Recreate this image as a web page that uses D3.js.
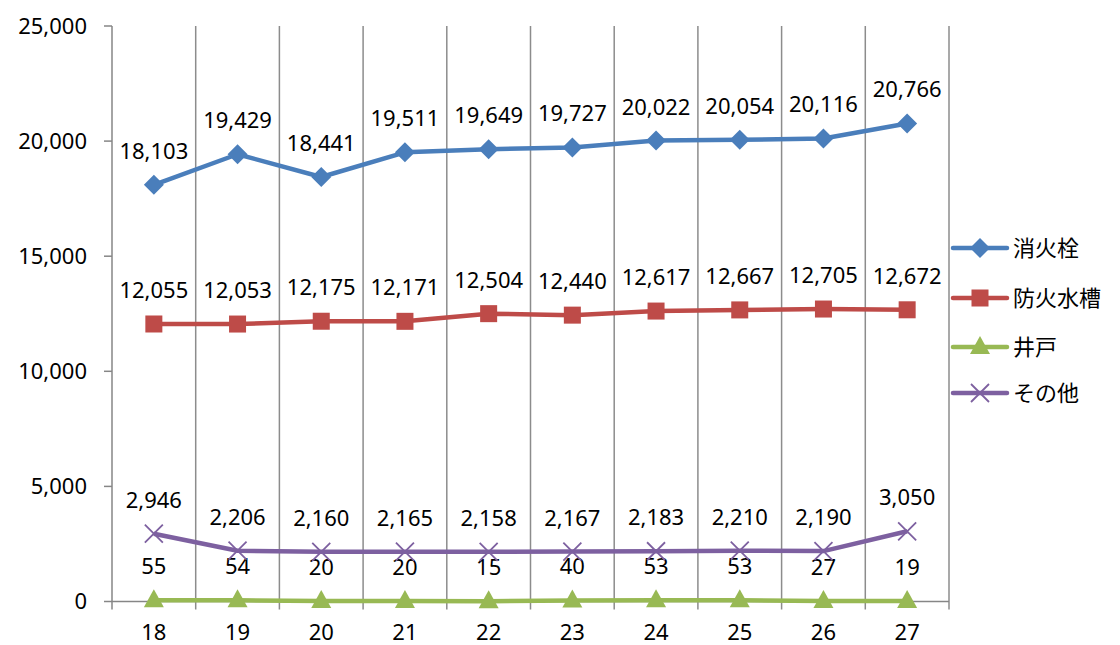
<!DOCTYPE html>
<html>
<head>
<meta charset="utf-8">
<script src="https://cdn.jsdelivr.net/npm/d3@7"></script>
<style>
body{margin:0;background:#fff;}
text{font-family:"Noto Sans","Noto Sans CJK JP",sans-serif;fill:#000;}
</style>
</head>
<body>
<svg id="svg" width="1120" height="645"></svg>
<script>
const years=["18","19","20","21","22","23","24","25","26","27"];
const hydrant=[18103,19429,18441,19511,19649,19727,20022,20054,20116,20766];
const tank=[12055,12053,12175,12171,12504,12440,12617,12667,12705,12672];
const well=[55,54,20,20,15,40,53,53,27,19];
const other=[2946,2206,2160,2165,2158,2167,2183,2210,2190,3050];
const seriesNames=["消火栓","防火水槽","井戸","その他"];
const yTicks=[0,5000,10000,15000,20000,25000];

const series=[
  {name:seriesNames[0],values:hydrant,color:"#4A7EBB",marker:"diamond"},
  {name:seriesNames[1],values:tank,color:"#BE4B48",marker:"square"},
  {name:seriesNames[2],values:well,color:"#98B954",marker:"triangle"},
  {name:seriesNames[3],values:other,color:"#7D60A0",marker:"cross"}
];

const plotLeft=112,plotRight=949,plotTop=26,plotBottom=601.5;
const svg=d3.select("#svg");

const x=d3.scaleBand().domain(years).range([plotLeft,plotRight]);
const y=d3.scaleLinear().domain([0,25000]).range([plotBottom,plotTop]);

// vertical gridlines at category borders
const borders=years.map(d=>x(d)).concat([plotRight]);
svg.append("g").selectAll("line")
    .data(borders.slice(1)).enter().append("line")
        .attr("x1",d=>d).attr("x2",d=>d)
        .attr("y1",plotTop).attr("y2",plotBottom+8)
        .attr("stroke","#8c8c8c").attr("stroke-width",1.5)

// y axis
svg.append("line")
    .attr("x1",plotLeft).attr("x2",plotLeft).attr("y1",plotTop).attr("y2",plotBottom+8)
    .attr("stroke","#868686").attr("stroke-width",1.5)
svg.append("g").selectAll("line")
    .data(yTicks).enter().append("line")
        .attr("x1",plotLeft-8).attr("x2",plotLeft)
        .attr("y1",d=>y(d)).attr("y2",d=>y(d))
        .attr("stroke","#868686").attr("stroke-width",1.5)
svg.append("g").selectAll("text")
    .data(yTicks).enter().append("text")
        .attr("x",87).attr("y",d=>y(d)).attr("dy","0.36em")
        .attr("text-anchor","end")
        .style("font-size","22px")
        .text(d=>d3.format(",")(d))

// x axis
svg.append("line")
    .attr("x1",plotLeft).attr("x2",plotRight).attr("y1",plotBottom).attr("y2",plotBottom)
    .attr("stroke","#868686").attr("stroke-width",1.5)
svg.append("g").selectAll("text")
    .data(years).enter().append("text")
        .attr("x",d=>x(d)+x.bandwidth()/2).attr("y",632).attr("dy","0.36em")
        .attr("text-anchor","middle")
        .style("font-size","22px")
        .text(d=>d)

const cx=d=>x(d)+x.bandwidth()/2;
const line=d3.line().x((d,i)=>cx(years[i])).y(d=>y(d));

function drawMarker(g,type,color){
    if(type==="diamond"){
        g.append("path").attr("d","M0,-10L10,0L0,10L-10,0Z").attr("fill",color)
    } else if(type==="square"){
        g.append("rect").attr("x",-8.5).attr("y",-8.5).attr("width",17).attr("height",17).attr("fill",color)
    } else if(type==="triangle"){
        g.append("path").attr("d","M0,-11L10,7L-10,7Z").attr("fill",color)
    } else {
        g.append("path").attr("d","M-9,-9L9,9M-9,9L9,-9").attr("stroke",color).attr("stroke-width",1.8)
    }
}

series.forEach(s=>{
    svg.append("path")
        .datum(s.values)
        .attr("d",line)
        .attr("fill","none")
        .attr("stroke",s.color)
        .attr("stroke-width",4.5)
        .attr("stroke-linejoin","round")
    s.values.forEach((v,i)=>{
        const g=svg.append("g").attr("transform","translate("+cx(years[i])+","+y(v)+")")
        drawMarker(g,s.marker,s.color)
    })
    svg.append("g").selectAll("text")
        .data(s.values).enter().append("text")
            .attr("x",(d,i)=>cx(years[i]))
            .attr("y",d=>y(d)-34).attr("dy","0.36em")
            .attr("text-anchor","middle")
            .style("font-size","22px")
            .text(d=>d3.format(",")(d))
})

// legend
const legend=svg.append("g")
const legendY=[248,298,347,393];
series.forEach((s,i)=>{
    const g=legend.append("g").attr("transform","translate(980,"+legendY[i]+")")
    g.append("line").attr("x1",-27).attr("x2",27).attr("stroke",s.color).attr("stroke-width",4.5).attr("stroke-linecap","round")
    drawMarker(g,s.marker,s.color)
    g.append("text").attr("x",33).attr("dy","0.36em").style("font-size","22px").text(s.name)
})
</script>
</body>
</html>
